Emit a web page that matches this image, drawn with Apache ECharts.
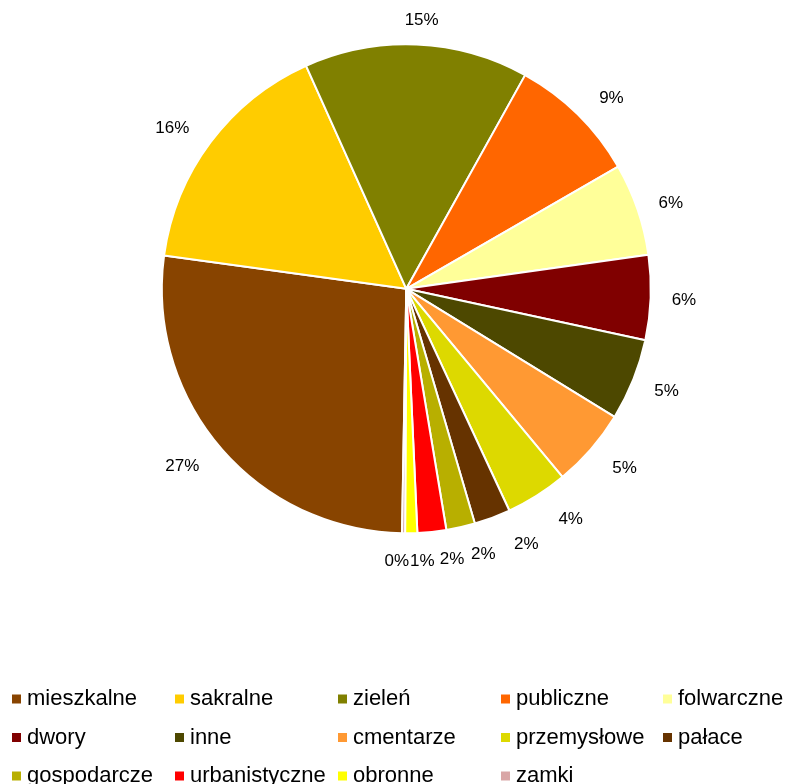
<!DOCTYPE html>
<html>
<head>
<meta charset="utf-8">
<script src="https://cdn.jsdelivr.net/npm/echarts@6/dist/echarts.min.js"></script>
<style>
html,body{margin:0;padding:0;background:#fff;}
#chart{width:789px;height:784px;}
</style>
</head>
<body>
<div id="chart"></div>
<script>
const categories = ['mieszkalne','sakralne','zieleń','publiczne','folwarczne','dwory','inne','cmentarze','przemysłowe','pałace','gospodarcze','urbanistyczne','obronne','zamki'];
const values = [269,161,148,86,61,56,54,52,41,24,19,19,8,2];
const colors = ['#884400','#FFCC00','#808000','#FF6600','#FFFF99','#800000','#4D4800','#FF9933','#DDD900','#663300','#B8AF00','#FF0000','#FFFF00','#D9A6A6'];

const FONT = '"Liberation Sans", Arial, sans-serif';
const LABEL_SIZE = 17;
const CX = 406.3, CY = 288.8, R = 243.5, START = 269;

// Excel-like "outside end" label placement computed from the data
const total = values.reduce((a, b) => a + b, 0);
const labelTexts = values.map(v => Math.round(v / total * 100) + '%');
const ctx = document.createElement('canvas').getContext('2d');
ctx.font = LABEL_SIZE + 'px ' + FONT;
let acc = 0;
const labelPos = values.map((v, i) => {
  const mid = (90 - START) + (acc + v / 2) / total * 360; // bearing clockwise from 12 o'clock
  acc += v;
  const b = mid * Math.PI / 180;
  const ux = Math.sin(b), uy = -Math.cos(b);
  const w = ctx.measureText(labelTexts[i]).width;
  const h = LABEL_SIZE;
  const px = CX + R * ux, py = CY + R * uy;
  const k = Math.max(-1, Math.min(1, 3 * ux));
  return {x: px + (w / 2 + 22) * k, y: py + 27 * uy + 2, w: w, h: h};
});
// simple horizontal de-overlap
const GAP = 5;
for (let it = 0; it < 30; it++) {
  const order = labelPos.map((p, i) => i).sort((a, b) => labelPos[a].x - labelPos[b].x);
  for (let j = 1; j < order.length; j++) {
    const a = labelPos[order[j - 1]], c = labelPos[order[j]];
    if (Math.abs(a.y - c.y) < (a.h + c.h) / 2) {
      const ov = (a.x + a.w / 2) - (c.x - c.w / 2) + GAP;
      if (ov > 0) { a.x -= ov * 0.3; c.x += ov * 0.7; }
    }
  }
}

const chart = echarts.init(document.getElementById('chart'), null, {renderer:'canvas'});
const colLefts = [12,175,338,501,663];
const rowCenters = [699,737.5,776];
const legends = categories.map((name, i) => ({
  orient: 'horizontal',
  left: colLefts[i % 5],
  top: rowCenters[Math.floor(i / 5)] - 11,
  padding: 0,
  itemWidth: 9,
  itemHeight: 9,
  icon: 'rect',
  selectedMode: false,
  itemStyle: {borderWidth: 0},
  textStyle: {fontSize: 22, lineHeight: 22, color: '#000', fontFamily: FONT, padding: [0,0,0,1]},
  data: [name]
}));

chart.setOption({
  animation: false,
  color: colors,
  legend: legends,
  series: [{
    type: 'pie',
    center: [CX, CY],
    radius: R + 1,
    startAngle: START,
    clockwise: true,
    avoidLabelOverlap: false,
    itemStyle: {borderColor: '#fff', borderWidth: 2},
    emphasis: {disabled: true},
    label: {
      show: true,
      position: 'outside',
      fontSize: LABEL_SIZE,
      fontFamily: FONT,
      color: '#000',
      formatter: p => labelTexts[p.dataIndex]
    },
    labelLine: {show: false},
    labelLayout: p => ({
      x: labelPos[p.dataIndex].x,
      y: labelPos[p.dataIndex].y,
      align: 'center',
      verticalAlign: 'middle',
      hideOverlap: false,
      moveOverlap: null
    }),
    data: categories.map((n, i) => ({name: n, value: values[i]}))
  }]
});
</script>
</body>
</html>
